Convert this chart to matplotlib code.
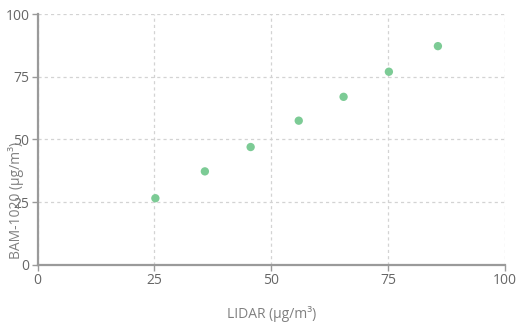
import matplotlib
matplotlib.use("Agg")
import matplotlib.pyplot as plt

# Paired PM concentration readings
lidar = [25.2, 35.8, 45.6, 55.9, 65.5, 75.2, 85.7]
bam1020 = [26.6, 37.3, 47.0, 57.5, 67.0, 77.0, 87.2]
ticks = [0, 25, 50, 75, 100]

plt.rcParams['font.family'] = ['Open Sans', 'DejaVu Sans']

fig = plt.figure(figsize=(5.17, 3.31), dpi=100)
ax = fig.add_axes([0.0729, 0.1994, 0.9033, 0.7583])

ax.scatter(lidar, bam1020, s=36, color='#7ccb95', edgecolors='none', zorder=3)

ax.set_xlim(0, 100)
ax.set_ylim(0, 100)
ax.set_xticks(ticks)
ax.set_yticks(ticks)

ax.grid(True, color='#d3d3d3', linestyle=(0, (2.5, 2.5)), linewidth=0.9)
ax.set_axisbelow(True)

for side in ('top', 'right'):
    ax.spines[side].set_visible(False)
for side in ('left', 'bottom'):
    ax.spines[side].set_color('#9a9a9a')
    ax.spines[side].set_linewidth(1.6)

ax.tick_params(axis='both', colors='#9a9a9a', labelcolor='#666666',
               labelsize=10, length=4, width=1, pad=2)

fig.text(0.525, 0.05, 'LIDAR (μg/m³)', ha='center', va='center',
         color='#808080', fontsize=10)
fig.text(0.031, 0.395, 'BAM-1020 (μg/m³)', ha='center', va='center',
         rotation=90, color='#808080', fontsize=10)

fig.savefig('out.png', dpi=100)
